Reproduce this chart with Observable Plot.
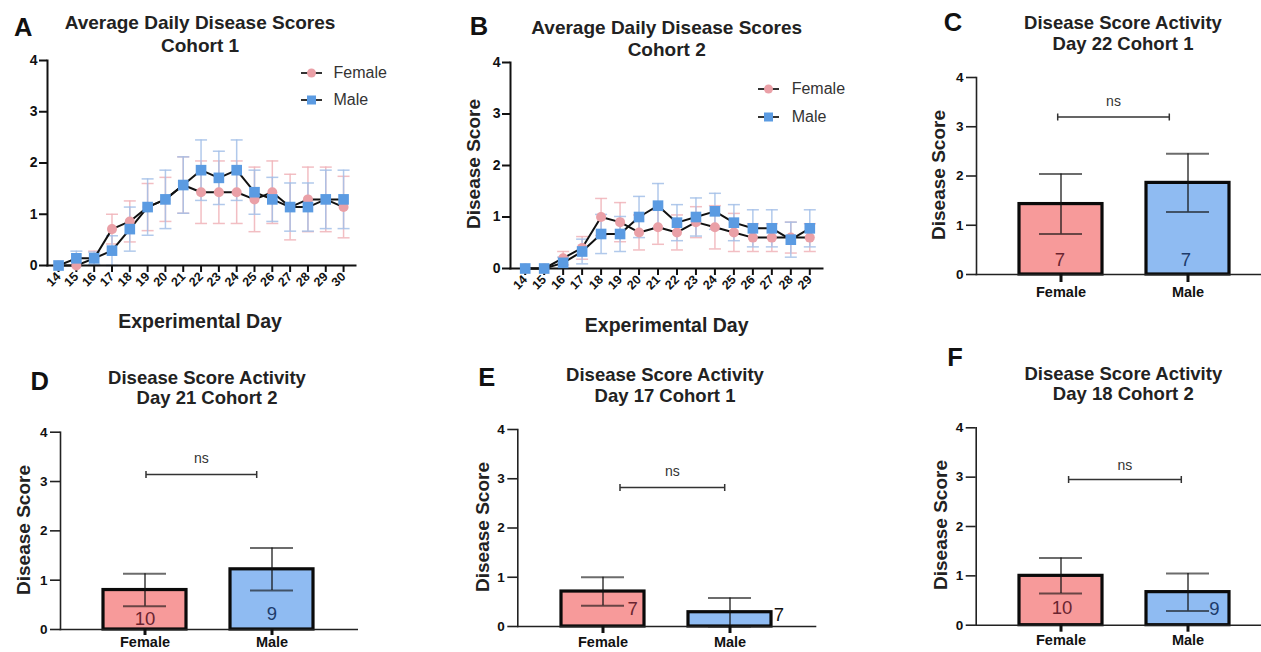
<!DOCTYPE html>
<html><head><meta charset="utf-8">
<script src="https://cdn.jsdelivr.net/npm/d3@7"></script>
<script src="https://cdn.jsdelivr.net/npm/@observablehq/plot@0.6"></script>
<style>
html,body{margin:0;padding:0;background:#fff;overflow:hidden;}
#fig{position:relative;width:1261px;height:652px;font-family:'Liberation Sans',Arial,Helvetica,sans-serif;color:#111;}
.abs{position:absolute;white-space:nowrap;transform:translate(-50%,-50%);line-height:1;}
.letter{font-size:25.5px;font-weight:bold;color:#111;}
.t1{font-size:19px;font-weight:bold;color:#222;}
.t2{font-size:18.5px;font-weight:bold;color:#222;}
.xlab{font-size:19.5px;font-weight:bold;color:#222;}
.ylab{font-size:19px;font-weight:bold;color:#222;transform:translate(-50%,-50%) rotate(-90deg);}
.leg{position:absolute;font-size:16px;color:#333;line-height:1;white-space:nowrap;transform:translateY(-50%);}
.plot{position:absolute;}
.plot svg{display:block;overflow:visible;}
.plot g[aria-label$="tick label"]{font-weight:bold;}
.lc g[aria-label="y-axis tick label"]{font-size:14px;}
.lc g[aria-label="x-axis tick label"]{font-size:12.5px;}
.bc g[aria-label="y-axis tick label"]{font-size:13.5px;}
.bc g[aria-label="x-axis tick label"]{font-size:14.5px;}
</style></head><body><div id="fig"></div>
<script>
// ---------- data ----------
const daysA = [14,15,16,17,18,19,20,21,22,23,24,25,26,27,28,29,30];
const femaleMeanA = [0,0,0.14,0.71,0.86,1.14,1.29,1.57,1.43,1.43,1.43,1.29,1.43,1.14,1.29,1.29,1.14];
const femaleSemA  = [0,0,0.14,0.29,0.40,0.46,0.43,0.55,0.61,0.61,0.61,0.63,0.61,0.64,0.63,0.63,0.60];
const maleMeanA   = [0,0.14,0.14,0.29,0.71,1.14,1.29,1.57,1.86,1.71,1.86,1.43,1.29,1.14,1.14,1.29,1.29];
const maleSemA    = [0,0.14,0.12,0.29,0.43,0.55,0.57,0.55,0.59,0.52,0.59,0.43,0.43,0.47,0.47,0.57,0.57];

const daysB = [14,15,16,17,18,19,20,21,22,23,24,25,26,27,28,29];
const femaleMeanB = [0,0,0.2,0.4,1.0,0.9,0.7,0.8,0.7,0.9,0.8,0.7,0.6,0.6,0.6,0.6];
const femaleSemB  = [0,0,0.13,0.22,0.36,0.38,0.34,0.33,0.34,0.30,0.42,0.37,0.27,0.27,0.30,0.27];
const maleMeanB   = [0,0,0.11,0.33,0.67,0.67,1.0,1.22,0.89,1.0,1.11,0.89,0.78,0.78,0.56,0.78];
const maleSemB    = [0,0,0.11,0.24,0.38,0.34,0.40,0.43,0.35,0.37,0.35,0.35,0.36,0.36,0.34,0.36];

const sexLabels = ["Female", "Male"];
const yTicks = [0, 1, 2, 3, 4];

const barMeansC = [1.43, 1.86], barSemC = [0.61, 0.59], barNC = [7, 7];
const barMeansD = [0.80, 1.22], barSemD = [0.33, 0.43], barND = [10, 9];
const barMeansE = [0.71, 0.29], barSemE = [0.29, 0.29], barNE = [7, 7];
const barMeansF = [1.00, 0.67], barSemF = [0.36, 0.38], barNF = [10, 9];
const bracketLevels = [3.2, 3.14, 2.82, 2.95];   // C, D, E, F
const sigLabels = ["ns", "ns", "ns", "ns"];

// ---------- styles ----------
const FONT = "'Liberation Sans', Arial, Helvetica, sans-serif";
const F_DOT = "#eaa0a7", M_DOT = "#5b9be2";
const F_ERR = "#f0b3b8", M_ERR = "#a3c0e8";
const F_BAR = "#f79a9a", M_BAR = "#8fbbf2";
const F_N = "#6a2430", M_N = "#1d3b6a";
const fig = document.getElementById("fig");
const intFmt = d => String(d);

const hSym = w => ({draw(ctx){ ctx.moveTo(-w/2, 0); ctx.lineTo(w/2, 0); }});
const bracketSym = (w, h) => ({draw(ctx){
  ctx.moveTo(-w/2, -h/2); ctx.lineTo(-w/2, h/2);
  ctx.moveTo(w/2, -h/2); ctx.lineTo(w/2, h/2);
  ctx.moveTo(-w/2, 0); ctx.lineTo(w/2, 0);
}});

function place(node, left, top, cls) {
  const d = document.createElement("div");
  d.className = "plot " + cls; d.style.left = left + "px"; d.style.top = top + "px";
  d.appendChild(node); fig.appendChild(d);
}
function label(text, x, y, cls) {
  const d = document.createElement("div");
  d.className = "abs " + cls; d.style.left = x + "px"; d.style.top = y + "px";
  d.textContent = text; fig.appendChild(d);
}
function legendItem(text, shape, lineX, y, textX) {
  const s = document.createElementNS("http://www.w3.org/2000/svg", "svg");
  s.setAttribute("width", 24); s.setAttribute("height", 14);
  s.style.position = "absolute"; s.style.left = lineX + "px"; s.style.top = (y - 7) + "px";
  const marker = shape === "circle"
    ? `<circle cx="10.5" cy="7" r="4.5" fill="${F_DOT}"/>`
    : `<rect x="6" y="2.5" width="9" height="9" fill="${M_DOT}"/>`;
  s.innerHTML = `<line x1="0" x2="21" y1="7" y2="7" stroke="#333" stroke-width="2"/>` + marker;
  fig.appendChild(s);
  const t = document.createElement("div");
  t.className = "leg"; t.style.left = textX + "px"; t.style.top = y + "px";
  t.textContent = text; fig.appendChild(t);
}

function lineChart(cfg) {
  const {days, fMean, fSem, mMean, mSem} = cfg;
  const fem = days.map((d, i) => ({day: d, mean: fMean[i], sem: fSem[i]}));
  const mal = days.map((d, i) => ({day: d, mean: mMean[i], sem: mSem[i]}));
  const fErr = fem.filter(r => r.sem > 0), mErr = mal.filter(r => r.sem > 0);
  const errMarks = (rows, color) => [
    Plot.ruleX(rows, {x: "day", y1: r => r.mean - r.sem, y2: r => r.mean + r.sem, stroke: color, strokeWidth: 1.5, strokeOpacity: 0.85}),
    Plot.dot(rows, {x: "day", y: r => r.mean + r.sem, symbol: hSym(12), r: 2, fill: "none", stroke: color, strokeWidth: 1.5, strokeOpacity: 0.85}),
    Plot.dot(rows, {x: "day", y: r => r.mean - r.sem, symbol: hSym(12), r: 2, fill: "none", stroke: color, strokeWidth: 1.5, strokeOpacity: 0.85})
  ];
  return Plot.plot({
    width: cfg.width, height: cfg.height,
    marginLeft: cfg.mL, marginRight: cfg.mR, marginTop: cfg.mT, marginBottom: cfg.mB,
    x: {domain: cfg.xDomain},
    y: {domain: [0, 4]},
    style: {fontFamily: FONT, fontSize: "13px", color: "#111", background: "none", overflow: "visible"},
    marks: [
      ...errMarks(fErr, F_ERR),
      ...errMarks(mErr, M_ERR),
      Plot.line(fem, {x: "day", y: "mean", stroke: "#111", strokeWidth: 2}),
      Plot.line(mal, {x: "day", y: "mean", stroke: "#111", strokeWidth: 2}),
      Plot.frame({anchor: "left", stroke: "#111", strokeWidth: 2}),
      Plot.frame({anchor: "bottom", stroke: "#111", strokeWidth: 2}),
      Plot.axisY({ticks: yTicks, tickFormat: intFmt, tickSize: 8, tickPadding: 2, fontSize: 14, fontWeight: "bold", strokeWidth: 2, label: null}),
      Plot.axisX({ticks: days, tickFormat: intFmt, tickRotate: -45, tickSize: 7, tickPadding: 2, fontSize: 12.5, fontWeight: "bold", strokeWidth: 2, label: null}),
      Plot.dot(fem, {x: "day", y: "mean", symbol: "circle", r: 5, fill: F_DOT}),
      Plot.dot(mal, {x: "day", y: "mean", symbol: "square", r: 6, fill: M_DOT})
    ]
  });
}

function barChart(cfg) {
  const rows = sexLabels.map((s, i) => ({sex: s, mean: cfg.means[i], sem: cfg.sems[i], n: cfg.ns[i]}));
  const fRow = rows.filter(r => r.sex === "Female"), mRow = rows.filter(r => r.sex === "Male");
  const errStyle = {stroke: "#111", strokeOpacity: 0.62, strokeWidth: 2};
  return Plot.plot({
    width: cfg.width, height: cfg.height,
    marginLeft: cfg.mL, marginRight: cfg.mR, marginTop: cfg.mT, marginBottom: cfg.mB,
    x: {type: "band", domain: sexLabels, range: cfg.range, paddingInner: cfg.pi, paddingOuter: cfg.po},
    y: {domain: [0, 4]},
    style: {fontFamily: FONT, fontSize: "13px", color: "#111", background: "none", overflow: "visible"},
    marks: [
      Plot.barY(fRow, {x: "sex", y: "mean", fill: F_BAR, stroke: "#0a0a0a", strokeWidth: 3.2}),
      Plot.barY(mRow, {x: "sex", y: "mean", fill: M_BAR, stroke: "#0a0a0a", strokeWidth: 3.2}),
      Plot.ruleX(rows, {x: "sex", y1: r => Math.max(0, r.mean - r.sem), y2: r => r.mean + r.sem, ...errStyle}),
      Plot.tickY(rows, {x: "sex", y: r => r.mean + r.sem, insetLeft: 20, insetRight: 20, ...errStyle}),
      Plot.tickY(rows, {x: "sex", y: r => Math.max(0, r.mean - r.sem), insetLeft: 20, insetRight: 20, ...errStyle}),
      Plot.text(fRow, {x: "sex", y: 0, text: r => String(r.n), dx: cfg.nF[0], dy: cfg.nF[1], fontSize: 18.5, fill: cfg.nColF || F_N}),
      Plot.text(mRow, {x: "sex", y: 0, text: r => String(r.n), dx: cfg.nM[0], dy: cfg.nM[1], fontSize: 18.5, fill: cfg.nColM || M_N}),
      Plot.dot([{sex: "Female", y: cfg.bracket}], {x: "sex", y: "y", symbol: bracketSym(cfg.bw, 7), r: 2, fill: "none", stroke: "#333", strokeWidth: 1.5, dx: cfg.bdx}),
      Plot.text([{sex: "Female", y: cfg.bracket, t: cfg.sig}], {x: "sex", y: "y", text: "t", dx: cfg.bdx, dy: cfg.nsDy, fontSize: 14, fill: "#333"}),
      Plot.frame({anchor: "left", stroke: "#222", strokeWidth: 1.6}),
      Plot.frame({anchor: "bottom", stroke: "#222", strokeWidth: 1.6}),
      Plot.axisY({ticks: yTicks, tickFormat: intFmt, tickSize: 10, tickPadding: 3, fontSize: 13.5, fontWeight: "bold", strokeWidth: 1.6, stroke: "#222", label: null}),
      Plot.axisX({tickSize: cfg.xTick || 8, tickPadding: cfg.xPad || 4, fontSize: 14.5, fontWeight: "bold", strokeWidth: 3, label: null})
    ]
  });
}

// ---------- panels ----------
place(lineChart({days: daysA, fMean: femaleMeanA, fSem: femaleSemA, mMean: maleMeanA, mSem: maleSemA,
  width: 430, height: 340, mL: 47, mR: 75, mT: 60, mB: 75, xDomain: [13.38, 30.67]}), 0, 0, "lc");
place(lineChart({days: daysB, fMean: femaleMeanB, fSem: femaleSemB, mMean: maleMeanB, mSem: maleSemB,
  width: 430, height: 340, mL: 80, mR: 38, mT: 62, mB: 72, xDomain: [13.225, 29.67]}), 430, 0, "lc");

place(barChart({means: barMeansC, sems: barSemC, ns: barNC, bracket: bracketLevels[0], sig: sigLabels[0],
  width: 401, height: 320, mL: 116, mR: 0, mT: 77, mB: 46, range: [116, 413], pi: 0.343, po: 0.3406,
  nF: [-1, -14], nM: [-2, -14], bw: 111.6, bdx: 52.5, nsDy: -15}), 860, 0, "bc");
place(barChart({means: barMeansD, sems: barSemD, ns: barND, bracket: bracketLevels[1], sig: sigLabels[1],
  width: 430, height: 322, mL: 60, mR: 73.3, mT: 101.7, mB: 23, range: [60, 355.8], pi: 0.35, po: 0.333,
  nF: [0, -10.7], nM: [0, -15.7], bw: 110.7, bdx: 56.35, nsDy: -16, xTick: 6, xPad: 1.5}), 0, 330, "bc");
place(barChart({means: barMeansE, sems: barSemE, ns: barNE, bracket: bracketLevels[2], sig: sigLabels[2],
  width: 430, height: 322, mL: 87.3, mR: 45, mT: 99, mB: 26, range: [87.3, 385], pi: 0.348, po: 0.3395,
  nF: [29.7, -17.3], nM: [49, -11], nColM: "#111", bw: 104.7, bdx: 69.35, nsDy: -15.6, xTick: 7, xPad: 3}), 430, 330, "bc");
place(barChart({means: barMeansF, sems: barSemF, ns: barNF, bracket: bracketLevels[3], sig: sigLabels[3],
  width: 401, height: 322, mL: 115.7, mR: 0, mT: 97.3, mB: 27.3, range: [115.7, 412.6], pi: 0.343, po: 0.34,
  nF: [1, -16.7], nM: [26.3, -15.7], bw: 112.7, bdx: 63.95, nsDy: -14.3, xTick: 7, xPad: 3}), 860, 330, "bc");

// ---------- text ----------
label("A", 23.3, 27.5, "letter");
label("Average Daily Disease Scores", 200, 21.7, "t1");
label("Cohort 1", 200, 44.5, "t1");
label("Experimental Day", 200, 321.7, "xlab");
legendItem("Female", "circle", 301, 72.7, 333.5);
legendItem("Male", "square", 301, 100, 333.5);

label("B", 479, 27, "letter");
label("Average Daily Disease Scores", 666.7, 26.5, "t1");
label("Cohort 2", 666.7, 48.8, "t1");
label("Experimental Day", 666.7, 326, "xlab");
label("Disease Score", 473.3, 164, "ylab");
legendItem("Female", "circle", 757.5, 89.3, 791.7);
legendItem("Male", "square", 757.5, 116.7, 791.7);

label("C", 953, 22.5, "letter");
label("Disease Score Activity", 1123, 23, "t2");
label("Day 22 Cohort 1", 1123, 44, "t2");
label("Disease Score", 937.5, 175, "ylab");

label("D", 39.7, 381.7, "letter");
label("Disease Score Activity", 207, 377.8, "t2");
label("Day 21 Cohort 2", 207, 398.3, "t2");
label("Disease Score", 23.3, 530, "ylab");

label("E", 486.7, 378, "letter");
label("Disease Score Activity", 665, 375, "t2");
label("Day 17 Cohort 1", 665, 395.5, "t2");
label("Disease Score", 482, 526.7, "ylab");

label("F", 955, 358.3, "letter");
label("Disease Score Activity", 1123.3, 374.3, "t2");
label("Day 18 Cohort 2", 1123.3, 394, "t2");
label("Disease Score", 940.3, 525, "ylab");
</script></body></html>
